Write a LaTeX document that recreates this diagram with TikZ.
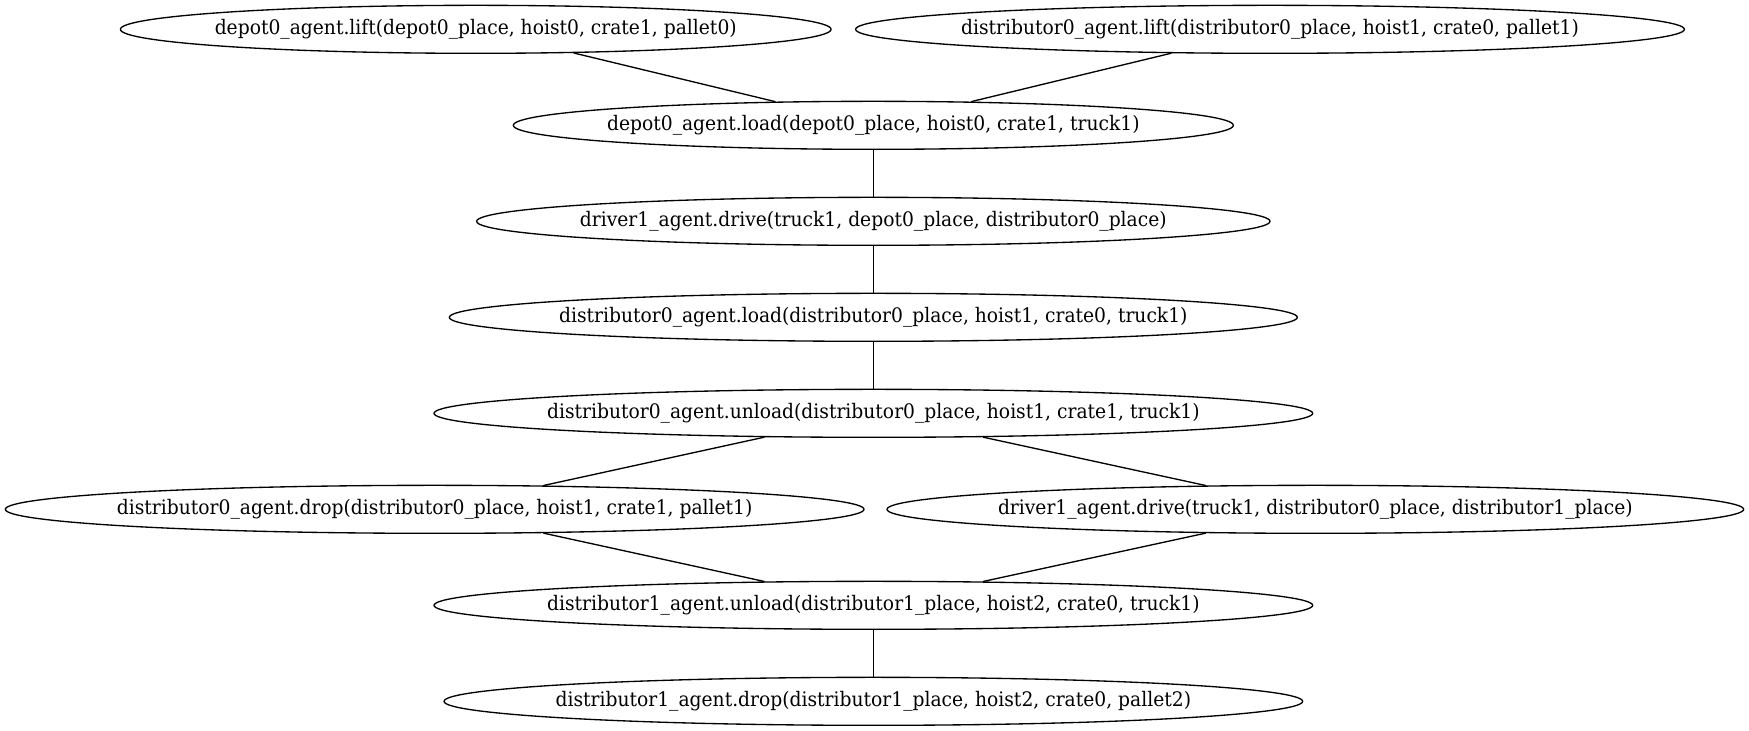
\documentclass[tikz,border=0pt]{standalone}
\usepackage{fontspec}
\setmainfont{DejaVu Serif}[FakeStretch=0.935]
\usetikzlibrary{shapes.geometric}
\definecolor{edge}{HTML}{000000}
\tikzset{
  act/.style={ellipse,draw=edge,line width=1pt,inner sep=0pt,minimum height=36pt,font=\fontsize{15pt}{17pt}\selectfont},
  link/.style={draw=edge,line width=1pt}
}
\newcommand{\actlabel}[1]{\makebox[0pt]{#1}}

\begin{document}
\begin{tikzpicture}[x=1pt,y=1pt,line cap=round,line join=round]
  \useasboundingbox (0,0) rectangle (1311.75,548);
  % ---- plan steps ----
  \node[act,minimum width=533] (liftA) at (356.8,526) {\actlabel{depot0\_agent.lift(depot0\_place, hoist0, crate1, pallet0)}};
  \node[act,minimum width=621.6] (liftB) at (952.5,526) {\actlabel{distributor0\_agent.lift(distributor0\_place, hoist1, crate0, pallet1)}};
  \node[act,minimum width=540] (loadA) at (655,454) {\actlabel{depot0\_agent.load(depot0\_place, hoist0, crate1, truck1)}};
  \node[act,minimum width=595] (driveA) at (655,382) {\actlabel{driver1\_agent.drive(truck1, depot0\_place, distributor0\_place)}};
  \node[act,minimum width=636] (loadB) at (655,310) {\actlabel{distributor0\_agent.load(distributor0\_place, hoist1, crate0, truck1)}};
  \node[act,minimum width=659] (unloadA) at (655,238) {\actlabel{distributor0\_agent.unload(distributor0\_place, hoist1, crate1, truck1)}};
  \node[act,minimum width=644] (dropA) at (326,166) {\actlabel{distributor0\_agent.drop(distributor0\_place, hoist1, crate1, pallet1)}};
  \node[act,minimum width=642.5] (driveB) at (986.5,166) {\actlabel{driver1\_agent.drive(truck1, distributor0\_place, distributor1\_place)}};
  \node[act,minimum width=659] (unloadB) at (655,94) {\actlabel{distributor1\_agent.unload(distributor1\_place, hoist2, crate0, truck1)}};
  \node[act,minimum width=644] (dropB) at (655,22) {\actlabel{distributor1\_agent.drop(distributor1\_place, hoist2, crate0, pallet2)}};
  % ---- ordering links ----
  \draw[link] (liftA) -- (loadA);
  \draw[link] (liftB) -- (loadA);
  \draw[link] (loadA) -- (driveA);
  \draw[link] (driveA) -- (loadB);
  \draw[link] (loadB) -- (unloadA);
  \draw[link] (unloadA) -- (dropA);
  \draw[link] (unloadA) -- (driveB);
  \draw[link] (dropA) -- (unloadB);
  \draw[link] (driveB) -- (unloadB);
  \draw[link] (unloadB) -- (dropB);
\end{tikzpicture}
\end{document}
